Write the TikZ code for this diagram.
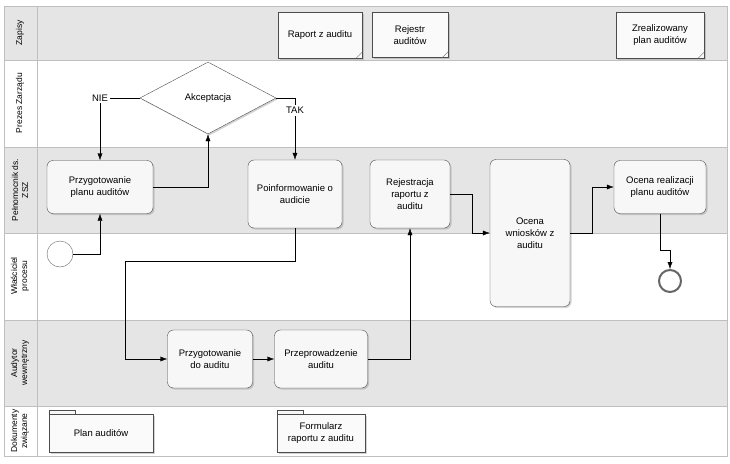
\documentclass[tikz,border=0pt]{standalone}
\usepackage{fontspec}
\setmainfont{Liberation Sans}
\usetikzlibrary{arrows,arrows.meta,shapes.geometric,shadows,positioning}
\tikzstyle{task} = [rectangle, rounded corners=6pt, draw=black!70, fill=black!3, align=center, font=\fontsize{9.5}{12}\selectfont, drop shadow={opacity=0.35,shadow xshift=1.5pt,shadow yshift=-1.5pt}]
\tikzstyle{note} = [rectangle, draw=black!70, fill=black!2, align=center, font=\fontsize{9.5}{12}\selectfont, drop shadow={opacity=0.35,shadow xshift=1.5pt,shadow yshift=-1.5pt}]
\tikzstyle{lane} = [draw=black!25]
\tikzstyle{lanelabel} = [rotate=90, align=center, font=\fontsize{8.5}{10}\selectfont]
\tikzstyle{flow} = [-{Latex[length=7pt,width=5pt]}, black]
\begin{document}
\begin{tikzpicture}[x=1pt,y=-1pt]
 \useasboundingbox (0,0) rectangle (730,463);

 % lanes
 \fill[black!10] (4,6) rectangle (727,60);
 \fill[black!10] (4,147) rectangle (727,233);
 \fill[black!10] (4,320) rectangle (727,406);
 \foreach \y in {60,147,233,320,406} \draw[lane] (4,\y) -- (727,\y);
 \draw[lane] (4,6) rectangle (727,456);
 \draw[lane] (37,6) -- (37,456);
 \node[lanelabel] (l1) at (20,33) {Zapisy};
 \node[lanelabel] (l2) at (20,103) {Prezes Zarządu};
 \node[lanelabel] (l3) at (20,190) {Pełnomocnik ds.\\ZSZ};
 \node[lanelabel] (l4) at (20,276) {Właściciel\\procesu};
 \node[lanelabel] (l5) at (20,363) {Audytor\\wewnętrzny};
 \node[lanelabel] (l6) at (20,431) {Dokumenty\\związane};

 % records
 \node[note, minimum width=84, minimum height=46] (raport) at (320,35) {Raport z auditu};
 \node[note, minimum width=76, minimum height=45] (rejestr) at (410,35) {Rejestr\\auditów};
 \node[note, minimum width=88, minimum height=46] (zreal) at (660,35) {Zrealizowany\\plan auditów};
 \foreach \n in {raport,rejestr,zreal}
  \draw[black!60] ([yshift=6]\n.south east) -- ([xshift=-6]\n.south east);

 % decision and tasks
 \node[diamond, draw=black!70, fill=white, aspect=1.9, minimum width=136, minimum height=72, inner sep=0,
  drop shadow={opacity=0.35,shadow xshift=1.5pt,shadow yshift=-1.5pt}] (akcept) at (208,98) {};
 \node[font=\fontsize{9.5}{12}\selectfont] (akcepttxt) at (208,98) {Akceptacja};
 \node[task, minimum width=106, minimum height=53] (plan) at (100,187) {Przygotowanie\\planu auditów};
 \node[task, minimum width=94, minimum height=68] (poinf) at (295,194) {Poinformowanie o\\audicie};
 \node[task, minimum width=80, minimum height=68] (rejestr2) at (410,194) {Rejestracja\\raportu z\\auditu};
 \node[task, minimum width=80, minimum height=147] (wnioski) at (530,233) {Ocena\\wniosków z\\auditu};
 \node[task, minimum width=92, minimum height=53] (ocena) at (660,187) {Ocena realizacji\\planu auditów};
 \node[task, minimum width=85, minimum height=58] (przyg) at (210,359) {Przygotowanie\\do auditu};
 \node[task, minimum width=93, minimum height=58] (przepr) at (321,359) {Przeprowadzenie\\auditu};
 \node[circle, draw=black!60, fill=white, minimum size=26] (start) at (60,254) {};
 \node[circle, draw=black!60, line width=2pt, fill=white, minimum size=22] (stop) at (670,281) {};

 % documents
 \node[note, minimum width=104, minimum height=38] (plandoc) at (101,433) {Plan auditów};
 \node[note, minimum width=88, minimum height=38] (formdoc) at (321,433) {Formularz\\raportu z auditu};
 \foreach \n in {plandoc,formdoc}
  \draw[black!70, fill=black!3] (\n.north west) -- ++(0,-4) -- ++(26,0) -- ++(0,4);

 % flows
 \draw[flow] (start.east) -| (plan.south);
 \draw[flow] (plan.east) -| (akcept.south);
 \draw[flow] (akcept.west) -| node[fill=white, inner sep=2pt, font=\fontsize{9.5}{12}\selectfont]{NIE} (plan.north);
 \draw[flow] (akcept.east) -| node[pos=0.6, fill=white, inner sep=2pt, font=\fontsize{9.5}{12}\selectfont]{TAK} (poinf.north);
 \coordinate (c1) at (125,261);
 \draw[flow] (poinf.south) |- (c1) |- (przyg.west);
 \draw[flow] (przyg) -- (przepr);
 \draw[flow] (przepr.east) -| (rejestr2.south);
 \coordinate (c2) at (472,194);
 \draw[flow] (rejestr2.east) -- (c2) |- (wnioski.west);
 \coordinate (c3) at (592,233);
 \draw[flow] (wnioski.east) -- (c3) |- (ocena.west);
 \coordinate (c4) at (660,250);
 \draw[flow] (ocena.south) -- (c4) -| (stop.north);
\end{tikzpicture}
\end{document}
